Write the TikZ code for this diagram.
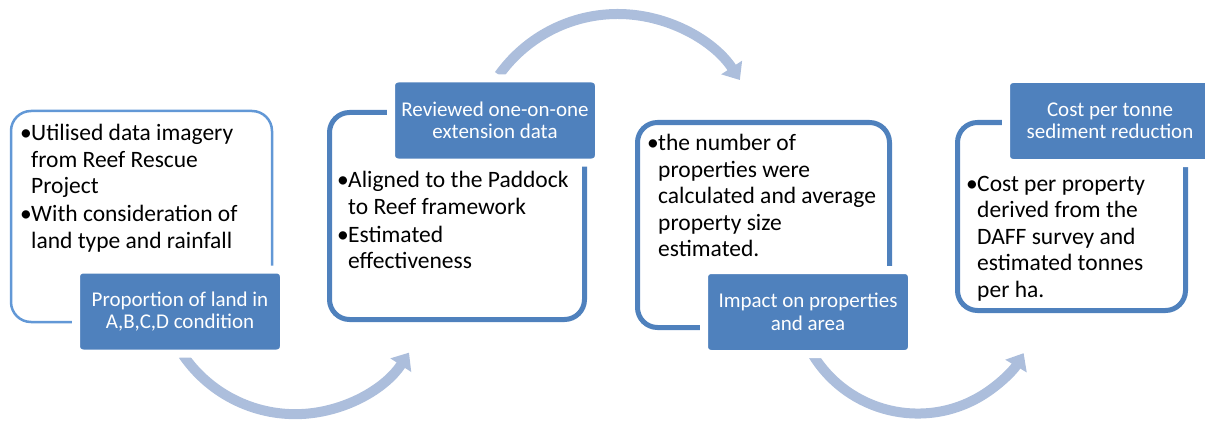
\documentclass[tikz,border=0pt]{standalone}
\usepackage{fontspec}
\setmainfont{Carlito}
\usetikzlibrary{positioning,arrows.meta,calc}
\definecolor{headblue}{RGB}{79,129,189}
\definecolor{firstblue}{RGB}{98,152,214}
\definecolor{flowblue}{RGB}{172,190,220}
\newcommand{\blt}{\makebox[11pt][l]{\textbullet}}
\newcommand{\ind}{\hspace*{11pt}}

\begin{document}
\begin{tikzpicture}[x=1pt,y=1pt,
  outline/.style={draw=headblue,line width=5pt,rounded corners=20pt},
  firstbox/.style={draw=firstblue,line width=2.5pt,rounded corners=20pt},
  headbox/.style={fill=headblue,draw=white,line width=8pt,rounded corners=7pt,
    minimum width=208pt,minimum height=84pt,inner sep=0pt,text=white,
    align=center,font=\fontsize{21}{22.5}\selectfont},
  bodytext/.style={anchor=north west,inner sep=0pt,align=left,
    font=\fontsize{23.5}{26.5}\selectfont},
  flow/.style={draw=flowblue,line width=10pt,-{Triangle[width=24pt,length=15pt]}}]
\useasboundingbox (0,0) rectangle (1205,424);
\node [firstbox,minimum width=261pt,minimum height=211pt] (box1) at (141.5,207.5) {};
\node [outline,minimum width=255pt,minimum height=207pt] (box2) at (457,208) {};
\node [outline,minimum width=252pt,minimum height=205pt] (box3) at (763.5,199) {};
\node [outline,minimum width=228pt,minimum height=188pt] (box4) at (1071.5,207.5) {};
\coordinate (tail1) at (183,69);
\coordinate (tail2) at (499,349);
\coordinate (tail3) at (813,69);
\draw [flow] (tail1) arc[start angle=-145.6,end angle=-33.2,radius=136pt];
\draw [flow] (tail2) arc[start angle=144.4,end angle=33.2,radius=146pt];
\draw [flow] (tail3) arc[start angle=-148.4,end angle=-30.6,radius=123pt];
\node [headbox] (head1) at (180,112.5) {Proportion of land in\\A,B,C,D condition};
\node [headbox] (head2) at (495,303.5) {Reviewed one-on-one\\extension data};
\node [headbox] (head3) at (808,112) {Impact on properties\\and area};
\node [headbox] (head4) at (1110,303) {Cost per tonne\\sediment reduction};
\node [bodytext] (text1) at (20,300) {\blt Utilised data imagery\\\ind from Reef Rescue\\\ind Project\\[1.5pt]
  \blt With consideration of\\\ind land type and rainfall};
\node [bodytext] (text2) at (337,253) {\blt Aligned to the Paddock\\\ind to Reef framework\\[1.5pt]
  \blt Estimated\\\ind effectiveness};
\node [bodytext] (text3) at (647,290) {\blt the number of\\\ind properties were\\\ind calculated and average\\\ind property size\\\ind estimated.};
\node [bodytext] (text4) at (966,248) {\blt Cost per property\\\ind derived from the\\\ind DAFF survey and\\\ind estimated tonnes\\\ind per ha.};
\end{tikzpicture}
\end{document}
